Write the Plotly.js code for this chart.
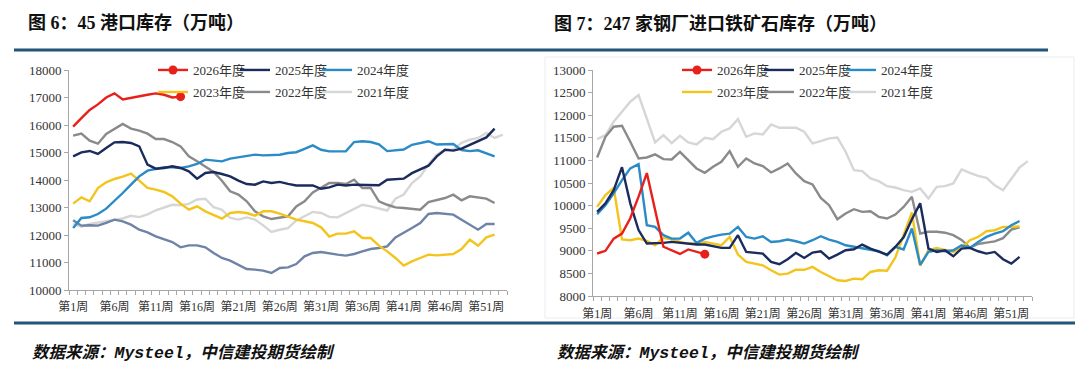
<!DOCTYPE html>
<html>
<head>
<meta charset="utf-8">
<script src="https://cdn.plot.ly/plotly-3.0.1.min.js"></script>
<style>
html,body{margin:0;padding:0;background:#fff;}
#chart{width:1080px;height:387px;}
</style>
</head>
<body>
<div id="chart"></div>
<script>
// ---------- data ----------
var tickWeeks = [1, 6, 11, 16, 21, 26, 31, 36, 41, 46, 51];
var tickLabels = ["第1周", "第6周", "第11周", "第16周", "第21周", "第26周", "第31周", "第36周", "第41周", "第46周", "第51周"];
var seriesNames = ["2026年度", "2025年度", "2024年度", "2023年度", "2022年度", "2021年度", "2020年度"];

// 图6 45港口库存（万吨）
var port2026 = [15940,16250,16550,16750,17000,17150,16930,17000,17050,17100,17150,17100,17000,17030];
var port2025 = [14861,15006,15055,14946,15164,15370,15382,15346,15225,14558,14412,14436,14497,14436,14315,14049,14255,14291,14218,14133,13976,13855,13830,13950,
                13890,13930,13860,13800,13800,13800,13680,13730,13830,13800,13830,13830,13830,13810,14010,14040,14050,14250,14400,14520,14860,15100,15070,15140,15280,15430,15550,15870];
var port2024 = [12255,12619,12643,12764,12958,13225,13527,13830,14134,14340,14412,14461,14461,14436,14497,14582,14740,14703,14679,14776,14824,14861,14921,14897,
                14900,14920,14980,15010,15130,15260,15100,15040,15040,15040,15380,15410,15380,15300,15050,15080,15110,15280,15340,15410,15290,15290,15310,15090,15050,15080,14980,14860];
var port2023 = [13140,13370,13225,13709,13915,14037,14122,14230,13976,13709,13649,13564,13406,13140,12922,13043,12861,12715,12594,12800,12836,12800,12703,12861,
                12861,12776,12679,12560,12500,12437,12279,11940,12049,12049,12134,11890,11890,11612,11406,11164,10885,11043,11164,11285,11260,11285,11310,11490,11830,11610,11915,12012];
var port2022 = [15612,15685,15430,15321,15673,15867,16036,15867,15794,15685,15491,15491,15382,15224,14861,14679,14497,14291,13976,13588,13467,13225,12861,12680,
                12580,12620,12680,13040,13225,13550,13710,13890,13890,13855,14010,13710,13710,13225,13100,13006,12982,12958,12921,13200,13285,13346,13467,13261,13406,13370,13322,13164];
var port2021 = [12400,12300,12400,12450,12500,12550,12600,12700,12650,12750,12900,13000,13100,13080,13130,13290,13320,13010,12920,12620,12560,12640,12560,12350,
                12110,12190,12250,12530,12700,12840,12800,12660,12640,12800,12950,13100,13040,12960,12890,13320,13470,13890,14130,14560,14920,15100,15100,15350,15470,15530,15710,15530,15650];
var port2020 = [12534,12340,12352,12340,12437,12558,12497,12376,12194,12097,11952,11855,11746,11552,11624,11624,11552,11346,11164,11067,10921,10764,10740,10703,
                10618,10800,10824,10945,11224,11346,11382,11321,11285,11249,11310,11406,11491,11527,11588,11915,12073,12255,12437,12764,12800,12776,12740,12558,12376,12194,12400,12400];

// 图7 247家钢厂进口铁矿石库存（万吨）
var mill2026 = [8940,9000,9270,9380,9720,10200,10720,9900,9090,9010,8930,9030,8980,8925];
var mill2025 = [9862,10050,10340,10850,10050,9460,9160,9160,9175,9197,9175,9160,9138,9138,9108,9064,9064,9345,8975,8960,8938,8754,8702,8813,8953,8842,
                8960,8990,8828,8916,9012,9034,9138,9049,8975,8916,9086,9300,9700,10050,9049,8975,9012,8879,9049,9064,8990,8938,8975,8813,8717,8865];
var mill2024 = [9810,10010,10270,10563,10823,10918,9567,9530,9345,9270,9270,9400,9175,9270,9320,9359,9381,9529,9307,9270,9322,9197,9211,9248,9211,9160,
                9234,9322,9248,9197,9123,9086,9064,9012,8990,8900,9086,9030,9493,8690,8975,9012,8990,9012,9123,9064,9197,9307,9381,9433,9566,9660];
var mill2023 = [9972,10231,10390,9250,9234,9270,9220,9123,9285,9256,9197,9160,9160,9197,9160,9123,9307,8916,8754,8717,8680,8569,8473,8495,8584,8580,
                8643,8532,8436,8347,8333,8384,8370,8532,8569,8560,8850,9350,9850,8670,9012,9064,9012,8975,9064,9234,9307,9433,9455,9529,9529,9540];
var mill2022 = [11065,11523,11745,11767,11412,11043,11065,11132,11028,11021,11190,11006,10822,10725,10858,10969,11205,10858,11043,10932,10873,10733,10822,10932,10711,10540,
                10467,10171,10009,9699,9824,9920,9861,9876,9751,9714,9802,9970,10194,9383,9420,9420,9400,9345,9240,9070,9150,9180,9210,9280,9470,9520];
var mill2021 = [11471,11560,11855,12077,12298,12446,11900,11400,11560,11380,11545,11397,11353,11500,11471,11634,11708,11914,11523,11597,11575,11796,11722,11722,11722,11634,
                11375,11427,11486,11508,11191,10785,10762,10600,10541,10430,10400,10341,10304,10380,10158,10415,10430,10490,10800,10725,10659,10615,10452,10341,10600,10844,10984];

// ---------- styles ----------
var colors = {"2026":"#e8201c","2025":"#1b2b5c","2024":"#2a8bc6","2023":"#f3c41c","2022":"#8a8a8a","2021":"#d6d6d6","2020":"#6f83a7"};
var LW = 2.4;
var W = 1080, H = 387;
function px(x){ return x / W; }
function py(y){ return 1 - y / H; }
function weeks(arr){ var w = []; for (var i = 0; i < arr.length; i++) w.push(i + 1); return w; }

function lineTrace(vals, year, name, xa, ya, legend, showlegend){
  return {x: weeks(vals), y: vals, type:'scatter', mode:'lines', name:name,
          line:{color:colors[year], width:LW}, xaxis:xa, yaxis:ya,
          legend:legend, showlegend:showlegend, hoverinfo:'skip'};
}
function currentTrace(vals, name, xa, ya, legend){
  // drawn from last week back to first so the end-point marker is the first point
  var xs = weeks(vals).slice().reverse();
  var ys = vals.slice().reverse();
  var mc = ys.map(function(v, i){ return i === 0 ? colors["2026"] : 'rgba(0,0,0,0)'; });
  return {x: xs, y: ys, type:'scatter', mode:'lines+markers', name:name,
          line:{color:colors["2026"], width:LW},
          marker:{size:9, color:mc, line:{width:0}},
          xaxis:xa, yaxis:ya, legend:legend, showlegend:true, hoverinfo:'skip'};
}
// empty spacer entry so the last legend label is not clipped
function spacer(xa, ya, legend){
  return {x:[null], y:[null], type:'scatter', mode:'lines', name:' ', line:{width:0, color:'rgba(0,0,0,0)'},
          xaxis:xa, yaxis:ya, legend:legend, showlegend:true, hoverinfo:'skip'};
}

var data = [
  spacer('x', 'y', 'legend2'),
  spacer('x', 'y', 'legend'),
  lineTrace(port2021, "2021", seriesNames[5], 'x', 'y', 'legend2', true),
  lineTrace(port2022, "2022", seriesNames[4], 'x', 'y', 'legend2', true),
  lineTrace(port2020, "2020", seriesNames[6], 'x', 'y', 'legend2', false),
  lineTrace(port2023, "2023", seriesNames[3], 'x', 'y', 'legend2', true),
  lineTrace(port2024, "2024", seriesNames[2], 'x', 'y', 'legend', true),
  lineTrace(port2025, "2025", seriesNames[1], 'x', 'y', 'legend', true),
  currentTrace(port2026, seriesNames[0], 'x', 'y', 'legend'),

  spacer('x2', 'y2', 'legend4'),
  spacer('x2', 'y2', 'legend3'),
  lineTrace(mill2021, "2021", seriesNames[5], 'x2', 'y2', 'legend4', true),
  lineTrace(mill2022, "2022", seriesNames[4], 'x2', 'y2', 'legend4', true),
  lineTrace(mill2023, "2023", seriesNames[3], 'x2', 'y2', 'legend4', true),
  lineTrace(mill2024, "2024", seriesNames[2], 'x2', 'y2', 'legend3', true),
  lineTrace(mill2025, "2025", seriesNames[1], 'x2', 'y2', 'legend3', true),
  currentTrace(mill2026, seriesNames[0], 'x2', 'y2', 'legend3')
];

var SERIF = '"Liberation Serif", "Times New Roman", "Noto Sans CJK SC", serif';
var axisColor = '#a6a6a6';
var tickFont = {family: SERIF, size: 13, color: '#333333'};

function xAxis(d0, d1, anchor, standoff){
  return {domain:[px(d0), px(d1)], anchor:anchor, range:[0.5, 53.5], tickmode:'array',
          tickvals:tickWeeks, ticktext:tickLabels, ticks:'', showline:true, linecolor:axisColor, linewidth:1,
          showgrid:false, zeroline:false, tickfont:{family:SERIF, size:12, color:'#333333'},
          ticklabelstandoff:standoff,
          minor:{tick0:0.5, dtick:1, ticks:'outside', ticklen:4, tickcolor:axisColor, tickwidth:1, showgrid:false},
          fixedrange:true};
}
function yAxis(top, bottom, anchor, r, dt){
  return {domain:[py(bottom), py(top)], anchor:anchor, range:r, dtick:dt, tick0:r[0], tickformat:'d',
          ticks:'outside', ticklen:4, tickcolor:axisColor, showline:true, linecolor:axisColor, linewidth:1,
          showgrid:false, zeroline:false, tickfont:tickFont, fixedrange:true};
}
function legendRow(xpx, ypx){
  return {orientation:'h', x:px(xpx), xanchor:'left', y:py(ypx), yanchor:'middle',
          bgcolor:'rgba(0,0,0,0)', borderwidth:0, traceorder:'reversed',
          entrywidth:37, entrywidthmode:'pixels', itemwidth:30,
          font:{family:SERIF, size:13, color:'#333333'}};
}

var titleFont = {family: SERIF, size: 18, color: '#111111', weight: 'bold'};
var srcFont = {family: '"Liberation Mono", "Noto Sans CJK SC", monospace', size: 16.5, color: '#111111', weight: 'bold', style: 'italic'};

var layout = {
  width: W, height: H, margin:{l:0, r:0, t:0, b:0},
  paper_bgcolor:'#ffffff', plot_bgcolor:'rgba(0,0,0,0)',
  xaxis: xAxis(69, 507, 'y', 6),
  yaxis: yAxis(70, 290, 'x', [10000, 18000], 1000),
  xaxis2: xAxis(593, 1032, 'y2', 7),
  yaxis2: yAxis(70, 296, 'x2', [8000, 13000], 500),
  legend: legendRow(153, 70),
  legend2: legendRow(153, 92),
  legend3: legendRow(677, 70),
  legend4: legendRow(677, 92),
  annotations: [
    {text:'图 6：45 港口库存（万吨）', xref:'paper', yref:'paper', x:px(26), y:py(23), xanchor:'left', yanchor:'middle', showarrow:false, font:titleFont},
    {text:'图 7：247 家钢厂进口铁矿石库存（万吨）', xref:'paper', yref:'paper', x:px(552), y:py(23), xanchor:'left', yanchor:'middle', showarrow:false, font:titleFont},
    {text:'数据来源：Mysteel，中信建投期货绘制', xref:'paper', yref:'paper', x:px(30), y:py(353), xanchor:'left', yanchor:'middle', showarrow:false, font:srcFont},
    {text:'数据来源：Mysteel，中信建投期货绘制', xref:'paper', yref:'paper', x:px(555), y:py(353), xanchor:'left', yanchor:'middle', showarrow:false, font:srcFont}
  ],
  shapes: [
    {type:'line', xref:'paper', yref:'paper', x0:px(14), x1:px(1048), y0:py(50), y1:py(50), line:{color:'#215579', width:3}},
    {type:'line', xref:'paper', yref:'paper', x0:px(14), x1:px(1075), y0:py(323), y1:py(323), line:{color:'#215579', width:3}},
    {type:'rect', xref:'paper', yref:'paper', x0:px(545), x1:px(1074), y0:py(318), y1:py(57), line:{color:'#ececec', width:1}, fillcolor:'rgba(0,0,0,0)', layer:'below'}
  ]
};

Plotly.newPlot('chart', data, layout, {displayModeBar:false, staticPlot:true});
</script>
</body>
</html>
